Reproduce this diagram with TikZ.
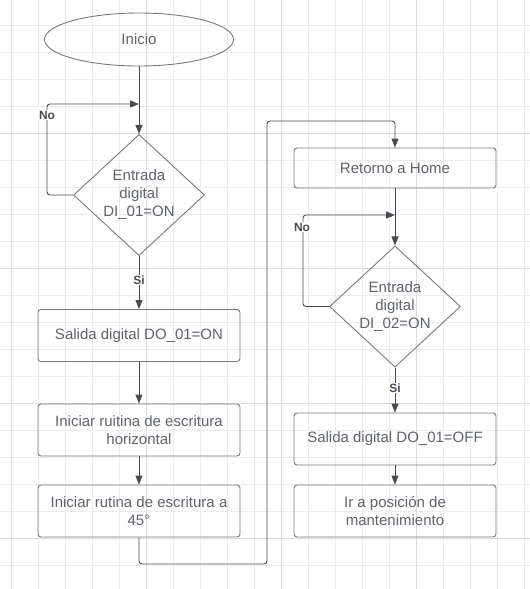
\documentclass[tikz,border=0pt]{standalone}
\usepackage{fontspec}
\setmainfont{Liberation Sans}
\usepackage{xcolor}
\usepackage{tikz}
\usetikzlibrary{shapes.geometric,arrows.meta}

\definecolor{gridminor}{HTML}{ECECEC}
\definecolor{gridmajor}{HTML}{DCDCDC}
\definecolor{shapeline}{HTML}{767A80}
\definecolor{flowline}{HTML}{474C54}
\definecolor{txtgray}{HTML}{5E636B}

\begin{document}
\begin{tikzpicture}[x=1pt, y=-1pt,
        every node/.style={font=\fontsize{15}{18}\selectfont, text=txtgray},
        startnode/.style={draw=shapeline, line width=0.9pt, ellipse, minimum width=189pt, minimum height=53pt, inner sep=0pt},
        decision/.style={draw=shapeline, line width=0.9pt, diamond, aspect=1, minimum width=131pt, minimum height=120pt, inner sep=0pt, align=center},
        process/.style={draw=shapeline, line width=0.9pt, rounded corners=3pt, minimum width=202pt, minimum height=52pt, inner sep=2pt, align=center},
        flow/.style={draw=flowline, line width=0.9pt, -{Triangle[length=9pt,width=7pt]}},
        loopback/.style={flow, rounded corners=3pt},
        answer/.style={fill=white, inner sep=1pt, font=\bfseries\fontsize{12}{14}\selectfont, text=flowline}]
        \useasboundingbox (0,0) rectangle (530,589);
        
        % Background grid
        \foreach \i in {0,...,19}
            \draw[gridminor, line width=0.8pt] ({11.7+27*\i},0) -- ({11.7+27*\i},589);
        \foreach \i in {0,...,20}
            \draw[gridminor, line width=0.8pt] (0,{25+27*\i}) -- (530,{25+27*\i});
        \foreach \i in {0,...,3}
            \draw[gridmajor, line width=1pt] ({11.7+135*\i},0) -- ({11.7+135*\i},589);
        \foreach \i in {1,...,4}
            \draw[gridmajor, line width=1pt] (0,{-2+135*\i}) -- (530,{-2+135*\i});
        
        % Left column
        \node[startnode] (start) at (139,39.5) {Inicio};
        \node[decision] (dec1) at (139,195) {Entrada\\digital\\DI\_01=ON};
        \node[process] (out1) at (139,335.5) {Salida digital DO\_01=ON};
        \node[process] (horiz) at (139,430) {Iniciar ruitina de escritura\\horizontal};
        \node[process] (diag) at (139,511) {Iniciar rutina de escritura a\\45°};
        
        % Right column
        \node[process, minimum height=40pt] (home) at (395,168) {Retorno a Home};
        \node[decision] (dec2) at (395,306.5) {Entrada\\digital\\DI\_02=ON};
        \node[process] (out2) at (395,439) {Salida digital DO\_01=OFF};
        \node[process] (maint) at (395,511) {Ir a posición de\\mantenimiento};
        
        % Loop points
        \coordinate (join1) at (139,104);
        \coordinate (bend1) at (47,104);
        \coordinate (join2) at (395,215);
        \coordinate (bend2) at (303,215);
        \coordinate (low) at (267,564);
        \coordinate (high) at (267,121);
        
        % Connectors
        \draw[flow] (start.south) -- (dec1.north);
        \draw[loopback] (dec1.west) -| (bend1) -- (join1);
        \draw[flow] (dec1.south) -- (out1.north);
        \draw[flow] (out1.south) -- (horiz.north);
        \draw[flow] (horiz.south) -- (diag.north);
        \draw[loopback] (diag.south) |- (low) -- (high) -| (home.north);
        \draw[flow] (home.south) -- (dec2.north);
        \draw[loopback] (dec2.west) -| (bend2) -- (join2);
        \draw[flow] (dec2.south) -- (out2.north);
        \draw[flow] (out2.south) -- (maint.north);
        
        % Answers
        \node[answer] (no1) at (47,115) {No};
        \node[answer] (yes1) at (139,280) {Si};
        \node[answer] (no2) at (302,227) {No};
        \node[answer] (yes2) at (395,388) {Si};
    \end{tikzpicture}
\end{document}
